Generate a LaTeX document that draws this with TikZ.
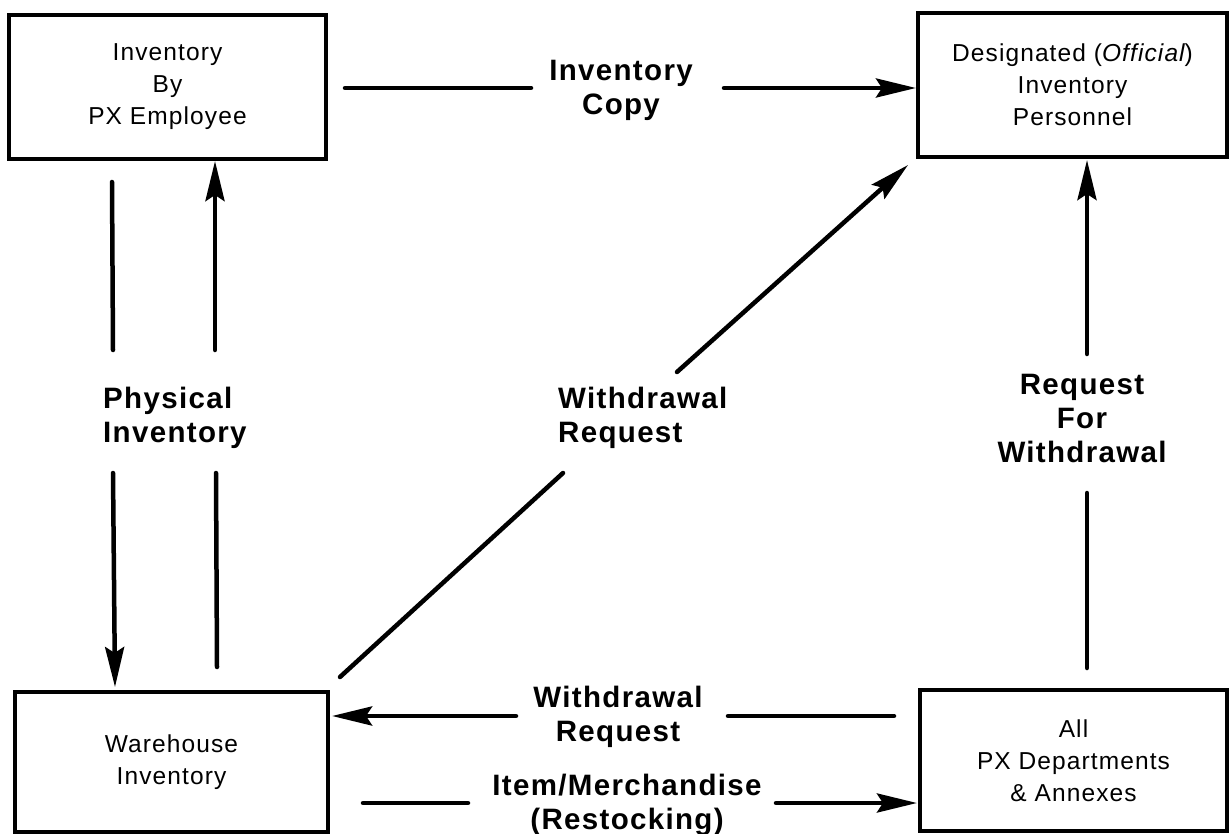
\documentclass[tikz,border=0pt]{standalone}
\usepackage{fontspec}
\setmainfont{Liberation Sans}[LetterSpace=4.5]
\usetikzlibrary{arrows.meta}
\tikzset{
  box/.style={draw, line width=4pt, align=center, inner sep=0pt,
    font=\fontsize{24.5}{32}\selectfont},
  lbl/.style={inner sep=0pt, font=\bfseries\fontsize{29.5}{34}\selectfont},
  conn/.style={line width=4.5pt, line cap=round},
  arr/.style={conn, -{Stealth[length=40pt,width=19pt,inset=6pt]}}
}
\begin{document}
\begin{tikzpicture}[x=1pt,y=-1pt]
\useasboundingbox (0,0) rectangle (1231,834);
% boxes
\node[box, minimum width=317pt, minimum height=144pt] (tl) at (167.5,87) {Inventory\\By\\PX Employee};
\node[box, minimum width=309pt, minimum height=144pt] (tr) at (1072.5,85) {Designated ({\itshape Official})\\Inventory\\Personnel};
\node[box, minimum width=313pt, minimum height=140pt] (bl) at (171.5,762) {Warehouse\\Inventory};
\node[box, minimum width=307pt, minimum height=141pt] (br) at (1073.5,760.5) {All\\PX Departments\\\& Annexes};
% labels
\node[lbl, align=center] (lcopy) at (621,90) {Inventory\\Copy};
\node[lbl, align=left, anchor=west] (lphys) at (103,418) {Physical\\Inventory};
\node[lbl, align=left, anchor=west] (ldiag) at (558,418) {Withdrawal\\Request};
\node[lbl, align=center] (lreq) at (1082,418) {Request\\For\\Withdrawal};
\node[lbl, align=center] (lwr) at (618,717) {Withdrawal\\Request};
\node[lbl, align=center] (litem) at (627,805) {Item/Merchandise\\(Restocking)};
% free ends
\coordinate (c1a) at (345,88);  \coordinate (c1b) at (531,88);
\coordinate (c1c) at (724,88);  \coordinate (c1d) at (916,88);
\coordinate (v1a) at (112,182); \coordinate (v1b) at (113,350);
\coordinate (v1c) at (113,473); \coordinate (v1d) at (115,687);
\coordinate (v2a) at (217,667); \coordinate (v2b) at (216,473);
\coordinate (v2c) at (215,350); \coordinate (v2d) at (215,161);
\coordinate (d1a) at (340,677); \coordinate (d1b) at (563,473);
\coordinate (d1c) at (677,372); \coordinate (d1d) at (908,165);
\coordinate (r1a) at (1087,668); \coordinate (r1b) at (1087,493);
\coordinate (r1c) at (1087,354); \coordinate (r1d) at (1087,160);
\coordinate (w1a) at (894,716); \coordinate (w1b) at (728,716);
\coordinate (w1c) at (516,716); \coordinate (w1d) at (332,716);
\coordinate (i1a) at (363,803); \coordinate (i1b) at (468,803);
\coordinate (i1c) at (776,803); \coordinate (i1d) at (917,803);
% connectors
\draw[conn] (c1a) -- (c1b);
\draw[arr] (c1c) -- (c1d);
\draw[conn] (v1a) -- (v1b);
\draw[arr] (v1c) -- (v1d);
\draw[conn] (v2a) -- (v2b);
\draw[arr] (v2c) -- (v2d);
\draw[conn] (d1a) -- (d1b);
\draw[arr] (d1c) -- (d1d);
\draw[conn] (r1a) -- (r1b);
\draw[arr] (r1c) -- (r1d);
\draw[conn] (w1a) -- (w1b);
\draw[arr] (w1c) -- (w1d);
\draw[conn] (i1a) -- (i1b);
\draw[arr] (i1c) -- (i1d);
\end{tikzpicture}
\end{document}
